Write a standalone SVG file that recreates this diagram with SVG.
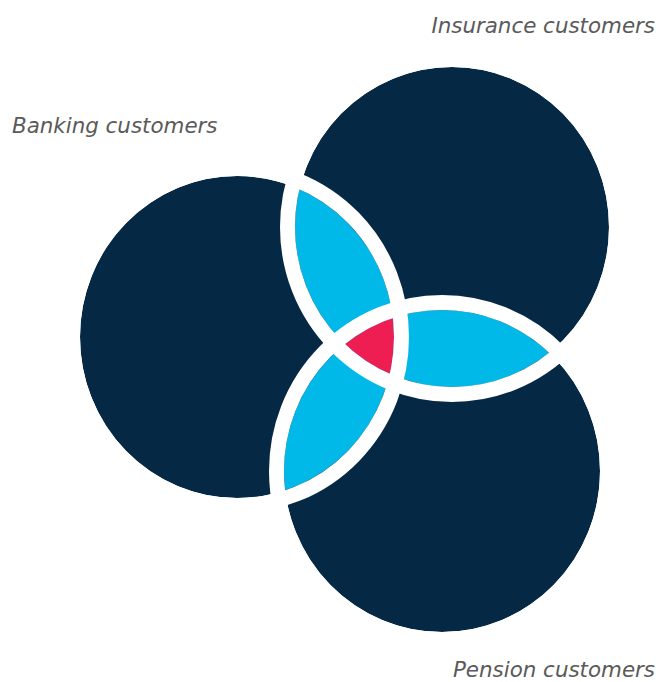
<svg xmlns="http://www.w3.org/2000/svg" width="671" height="682" viewBox="0 0 671 682">
  <style>
    .set { fill: #052845; }
    .pair { fill: #00B9E8; }
    .core { fill: #EE1D52; }
    .gap { fill: none; stroke: #ffffff; stroke-width: 15; }
    .label { font-family: "DejaVu Sans", Verdana, sans-serif; font-style: italic; font-size: 21.4px; fill: #5a5a5a; }
  </style>
  <defs>
    <clipPath id="clipBanking"><ellipse cx="237" cy="337" rx="157" ry="161"/></clipPath>
    <clipPath id="clipInsurance"><ellipse cx="452" cy="227" rx="157" ry="160"/></clipPath>
    <clipPath id="clipPension"><ellipse cx="442" cy="471" rx="158" ry="161"/></clipPath>
  </defs>
  <rect width="671" height="682" fill="#ffffff"/>

  <!-- set discs -->
  <g id="banking">
    <ellipse class="set" cx="237" cy="337" rx="157" ry="161"/>
    <text class="label" x="12" y="133">Banking customers</text>
  </g>
  <g id="insurance">
    <ellipse class="set" cx="452" cy="227" rx="157" ry="160"/>
    <text class="label" x="655" y="33" text-anchor="end">Insurance customers</text>
  </g>
  <g id="pension">
    <ellipse class="set" cx="442" cy="471" rx="158" ry="161"/>
    <text class="label" x="655" y="677" text-anchor="end">Pension customers</text>
  </g>

  <!-- pairwise overlaps -->
  <g id="overlaps">
    <ellipse class="pair" cx="452" cy="227" rx="157" ry="160" clip-path="url(#clipBanking)"/>
    <ellipse class="pair" cx="442" cy="471" rx="158" ry="161" clip-path="url(#clipInsurance)"/>
    <ellipse class="pair" cx="442" cy="471" rx="158" ry="161" clip-path="url(#clipBanking)"/>
    <g clip-path="url(#clipInsurance)">
      <ellipse class="core" cx="442" cy="471" rx="158" ry="161" clip-path="url(#clipBanking)"/>
    </g>
  </g>

  <!-- white separating rings -->
  <g id="connectors">
    <ellipse class="gap" cx="237" cy="337" rx="164.5" ry="168.5"/>
    <ellipse class="gap" cx="452" cy="227" rx="164.5" ry="167.5"/>
    <ellipse class="gap" cx="442" cy="471" rx="165.5" ry="168.5"/>
  </g>
</svg>
